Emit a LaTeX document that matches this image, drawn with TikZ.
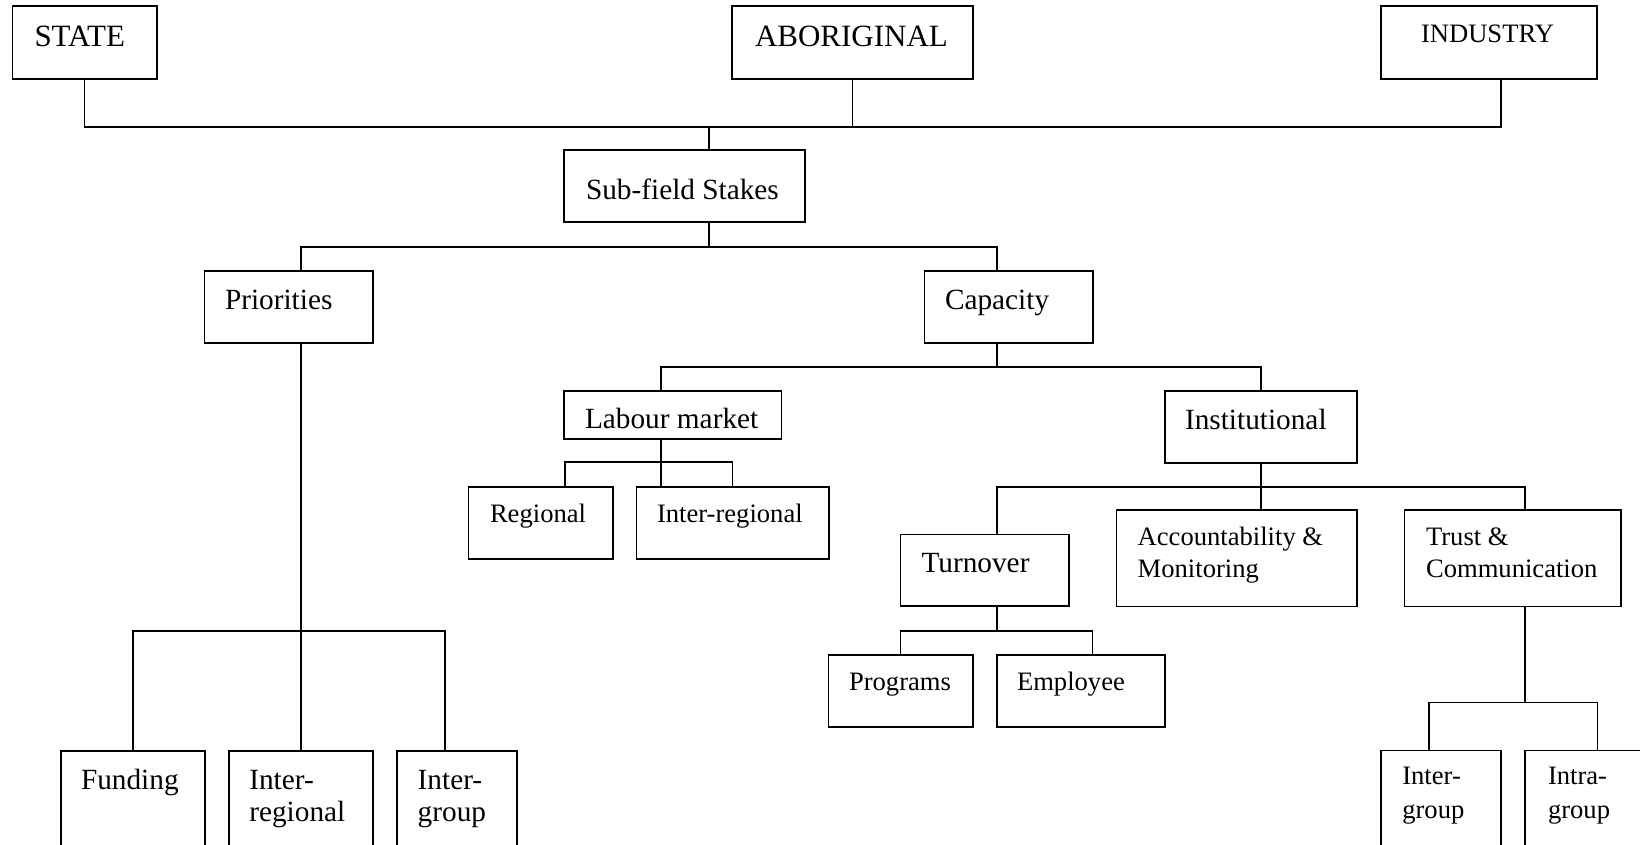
\documentclass[tikz,border=0pt]{standalone}
\usepackage{fontspec}
\setmainfont{Liberation Serif}
\begin{document}
\begin{tikzpicture}[x=1pt,y=-1pt,
  box/.style={draw, rectangle, line width=1.8pt, inner sep=0pt, outer sep=0pt},
  wire/.style={line width=1.4pt},
  lbl/.style={anchor=base west, inner sep=0pt, outer sep=0pt},
  big/.style={lbl, font=\fontsize{31}{36}\selectfont},
  mid/.style={lbl, font=\fontsize{29.3}{33}\selectfont},
  small/.style={lbl, font=\fontsize{26.6}{31}\selectfont}]
\useasboundingbox (0,0) rectangle (1640,844);
\clip (0,0) rectangle (1640,844);

% ---- boxes ----
\node[box, minimum width=144.5pt, minimum height=73pt] (state) at (84.75,42.5) {};
\node[box, minimum width=241pt, minimum height=73pt] (aboriginal) at (852.5,42.5) {};
\node[box, minimum width=216pt, minimum height=73pt] (industry) at (1489,42.5) {};
\node[box, minimum width=241pt, minimum height=72pt] (subfield) at (684.5,186) {};
\node[box, minimum width=168.5pt, minimum height=72pt] (priorities) at (288.75,307) {};
\node[box, minimum width=168.5pt, minimum height=72pt] (capacity) at (1008.75,307) {};
\node[box, minimum width=217.5pt, minimum height=48pt] (labour) at (672.75,415) {};
\node[box, minimum width=144.5pt, minimum height=72pt] (regional) at (540.75,523) {};
\node[box, minimum width=192.5pt, minimum height=72pt] (interreg) at (732.75,523) {};
\node[box, minimum width=192pt, minimum height=72pt] (institutional) at (1261,427) {};
\node[box, minimum width=168.5pt, minimum height=71.5pt] (turnover) at (984.75,570.25) {};
\node[box, minimum width=240.5pt, minimum height=96.5pt] (account) at (1236.75,558.25) {};
\node[box, minimum width=216.5pt, minimum height=96.5pt] (trust) at (1512.75,558.25) {};
\node[box, minimum width=144.5pt, minimum height=72pt] (programs) at (900.75,691) {};
\node[box, minimum width=168pt, minimum height=72pt] (employee) at (1081,691) {};
\node[box, minimum width=144pt, minimum height=119pt] (funding) at (133,810.5) {};
\node[box, minimum width=144pt, minimum height=119pt] (interregB) at (301,810.5) {};
\node[box, minimum width=120pt, minimum height=119pt] (intergroup) at (457,810.5) {};
\node[box, minimum width=120pt, minimum height=119.5pt] (intergroupR) at (1441,810.25) {};
\node[box, minimum width=145pt, minimum height=119.5pt] (intragroup) at (1597.5,810.25) {};

% ---- texts ----
\node[big] (tState) at (34.5,46.7) {STATE};
\node[big] (tAbor) at (755,46.7) {ABORIGINAL};
\node[small] (tInd) at (1421,42.5) {INDUSTRY};
\node[mid] (tSub) at (586,199) {Sub-field Stakes};
\node[mid] (tPri) at (225,309.5) {Priorities};
\node[mid] (tCap) at (945,309.5) {Capacity};
\node[mid] (tLab) at (585,428.3) {Labour market};
\node[small] (tReg) at (490,522.7) {Regional};
\node[small] (tIreg) at (657,522.7) {Inter-regional};
\node[mid] (tIns) at (1185,429) {Institutional};
\node[mid] (tTur) at (921.5,572.7) {Turnover};
\node[small] (tAcc1) at (1137.7,545) {Accountability \&};
\node[small] (tAcc2) at (1137.7,577.3) {Monitoring};
\node[small] (tTru1) at (1426,545) {Trust \&};
\node[small] (tTru2) at (1426,577.3) {Communication};
\node[small] (tProg) at (849,690) {Programs};
\node[small] (tEmp) at (1017,690) {Employee};
\node[mid] (tFund) at (81,789.3) {Funding};
\node[mid] (tIrB1) at (249.3,789.3) {Inter-};
\node[mid] (tIrB2) at (249.3,821.7) {regional};
\node[mid] (tIg1) at (417.7,789.3) {Inter-};
\node[mid] (tIg2) at (417.7,821.7) {group};
\node[small] (tIgR1) at (1402.3,784.3) {Inter-};
\node[small] (tIgR2) at (1402.3,818.3) {group};
\node[small] (tItr1) at (1548,784.3) {Intra-};
\node[small] (tItr2) at (1548,818.3) {group};

% ---- drop points off the box centres ----
\coordinate (indB) at ([xshift=12pt]industry.south);
\coordinate (subT) at ([xshift=24.5pt]subfield.north);
\coordinate (subB) at ([xshift=24.5pt]subfield.south);
\coordinate (priT) at ([xshift=12.25pt]priorities.north);
\coordinate (priB) at ([xshift=12.25pt]priorities.south);
\coordinate (capT) at ([xshift=-11.75pt]capacity.north);
\coordinate (capB) at ([xshift=-11.75pt]capacity.south);
\coordinate (labT) at ([xshift=-11.75pt]labour.north);
\coordinate (labB) at ([xshift=-11.75pt]labour.south);
\coordinate (regT) at ([xshift=24.25pt]regional.north);
\coordinate (turT) at ([xshift=12.25pt]turnover.north);
\coordinate (turB) at ([xshift=12.25pt]turnover.south);
\coordinate (truT) at ([xshift=12.25pt]trust.north);
\coordinate (truB) at ([xshift=12.25pt]trust.south);
\coordinate (empT) at ([xshift=11.5pt]employee.north);
\coordinate (igT) at ([xshift=-12pt]intergroup.north);
\coordinate (igRT) at ([xshift=-12pt]intergroupR.north);

% ---- bus levels ----
\coordinate (busA) at (0,127);
\coordinate (busB) at (0,247);
\coordinate (busC) at (0,631);
\coordinate (busD) at (0,367);
\coordinate (busE) at (0,462);
\coordinate (busF) at (0,487);
\coordinate (busG) at (0,631);
\coordinate (busH) at (0,702.7);

% ---- connectors ----
\draw[wire] (state.south) -- (state.south |- busA) -- (indB |- busA) -- (indB);
\draw[wire] (aboriginal.south) -- (aboriginal.south |- busA);
\draw[wire] (subT) -- (subT |- busA);

\draw[wire] (subB) -- (subB |- busB);
\draw[wire] (priT) -- (priT |- busB) -- (capT |- busB) -- (capT);

\draw[wire] (priB) -- (priB |- busC);
\draw[wire] (funding.north) -- (funding.north |- busC) -- (igT |- busC) -- (igT);
\draw[wire] (interregB.north) -- (interregB.north |- busC);

\draw[wire] (capB) -- (capB |- busD);
\draw[wire] (labT) -- (labT |- busD) -- (institutional.north |- busD) -- (institutional.north);

\draw[wire] (labB) -- (labB |- interreg.north);
\draw[wire] (regT) -- (regT |- busE) -- (interreg.north |- busE) -- (interreg.north);

\draw[wire] (institutional.south) -- (institutional.south |- account.north);
\draw[wire] (turT) -- (turT |- busF) -- (truT |- busF) -- (truT);

\draw[wire] (turB) -- (turB |- busG);
\draw[wire] (programs.north) -- (programs.north |- busG) -- (empT |- busG) -- (empT);

\draw[wire] (truB) -- (truB |- busH);
\draw[wire] (igRT) -- (igRT |- busH) -- (intragroup.north |- busH) -- (intragroup.north);
\end{tikzpicture}
\end{document}
